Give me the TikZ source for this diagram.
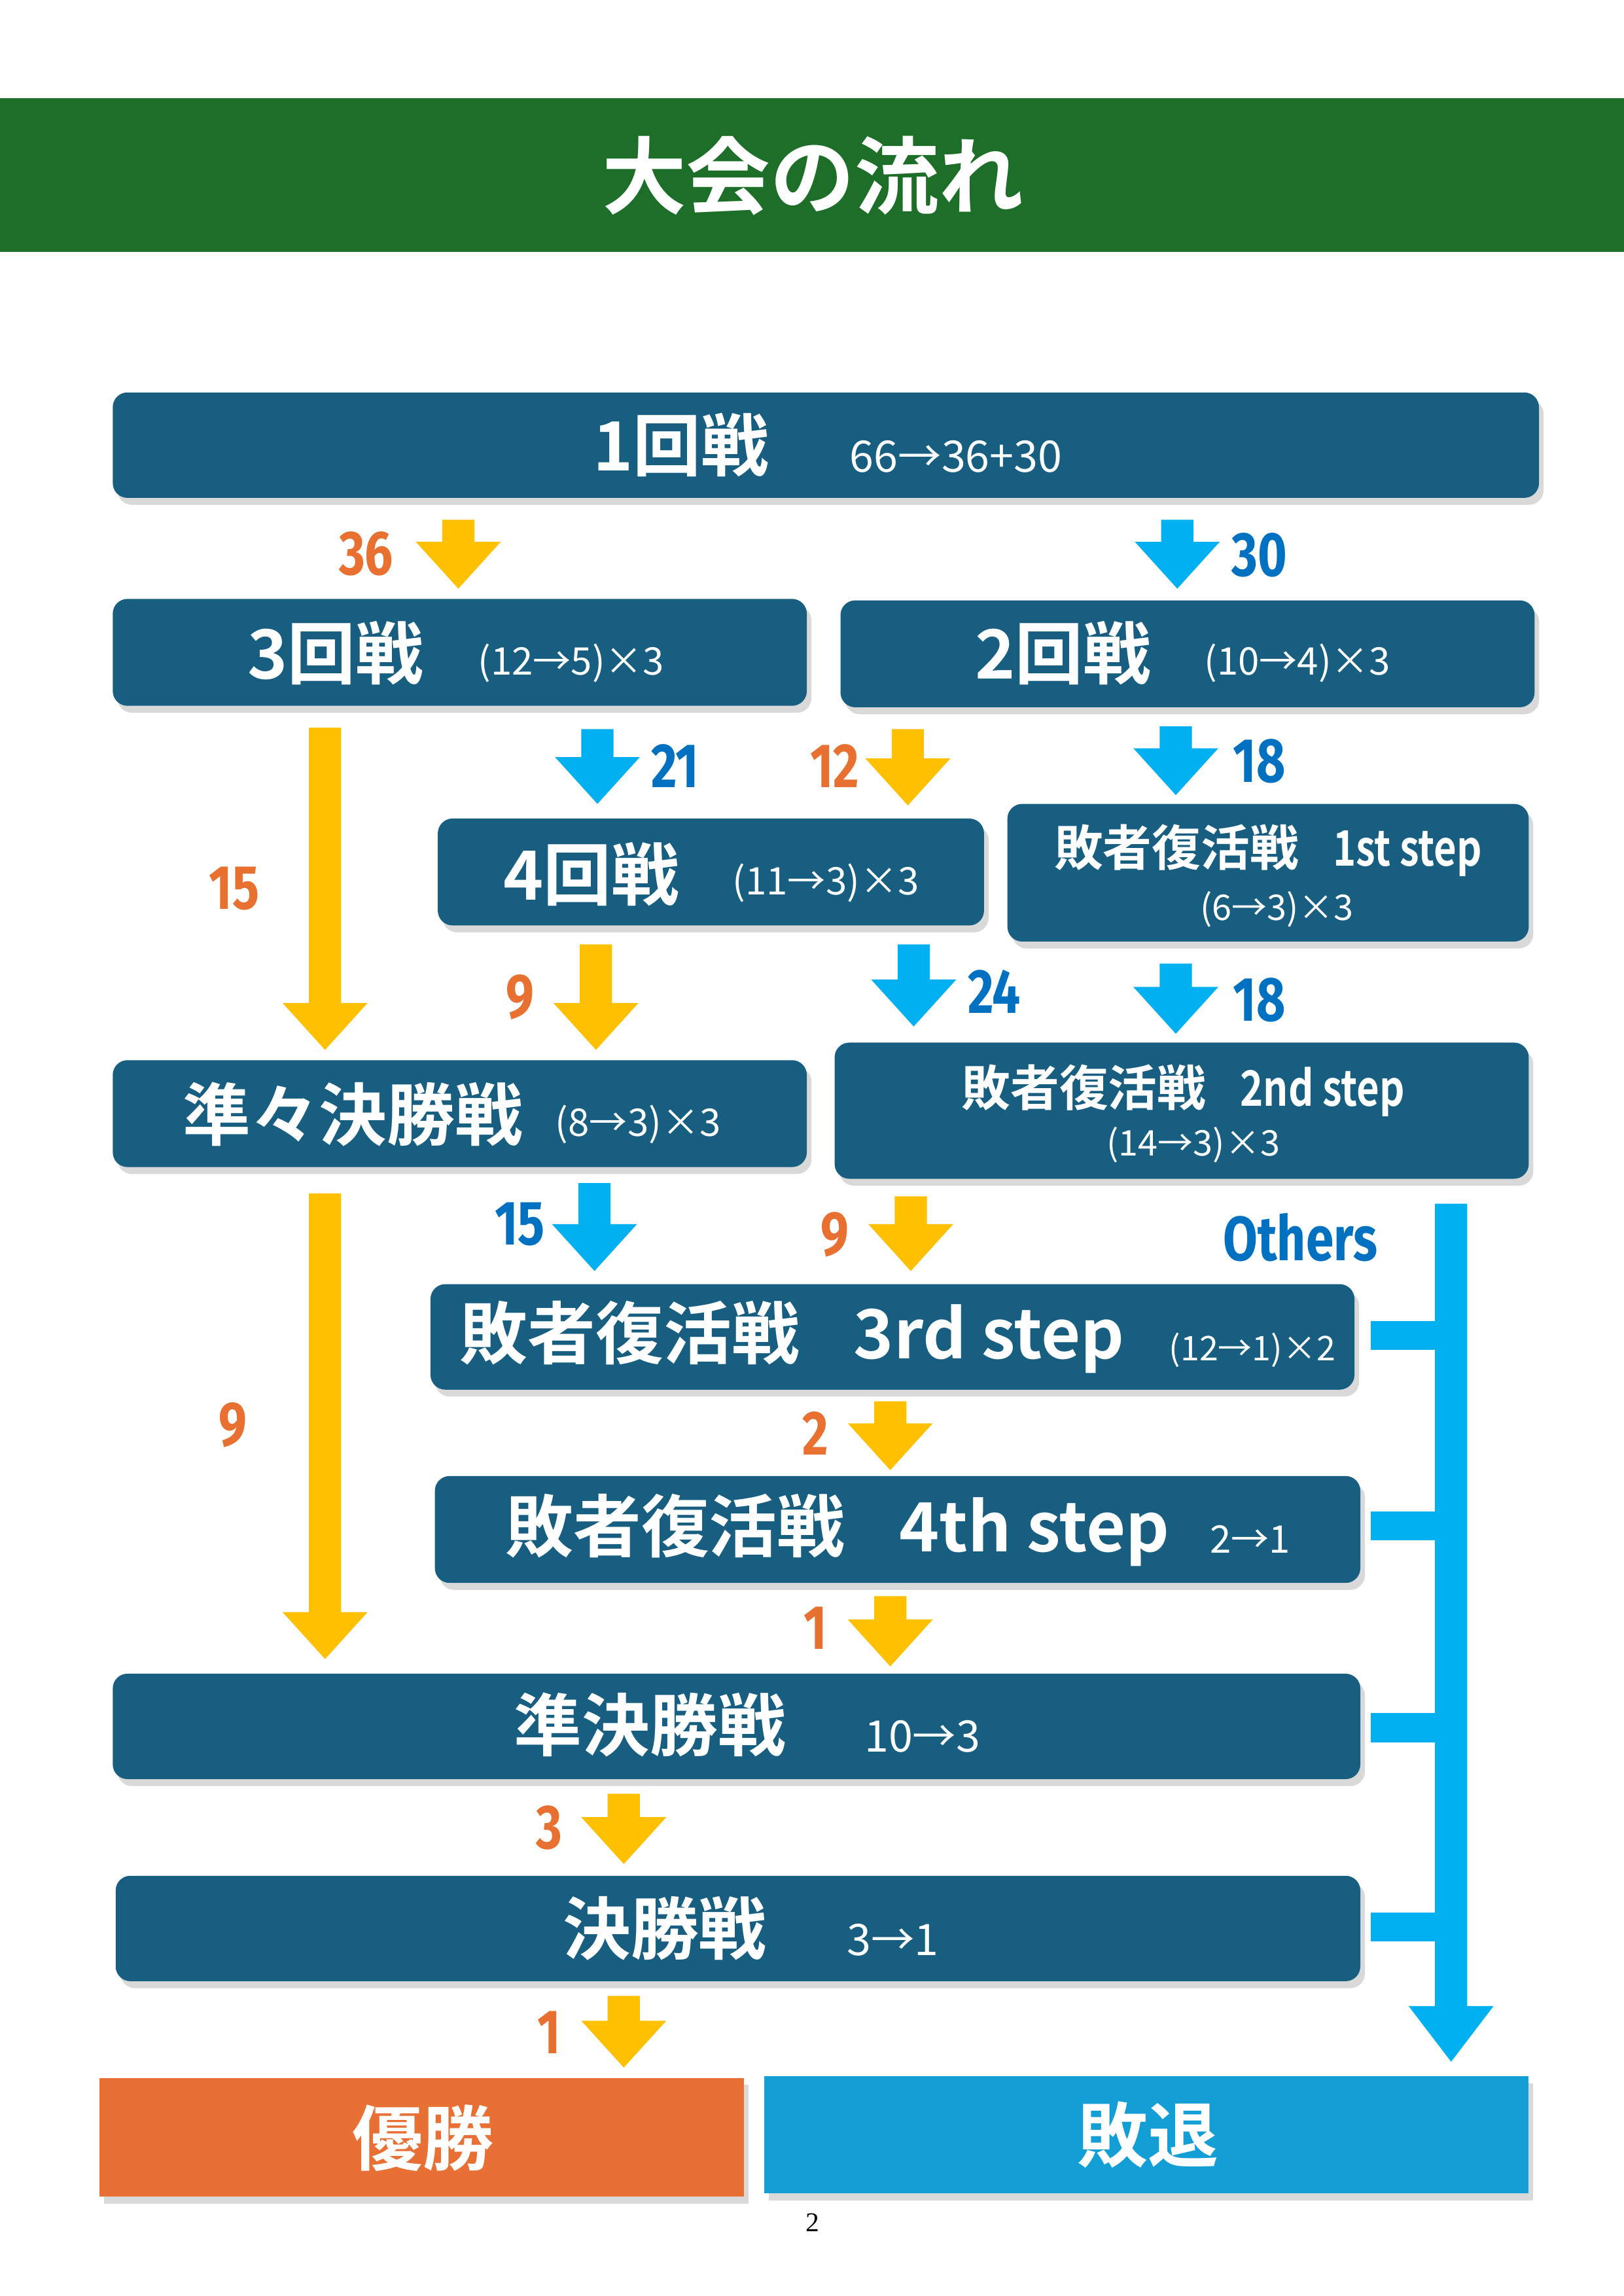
\documentclass[tikz,border=0pt]{standalone}
\usepackage{fontspec}
\setmainfont{Fira Sans}
\newfontfamily\jp{Noto Sans CJK JP}
\newfontfamily\jpb{Noto Sans CJK JP Bold}
\newfontfamily\pnum{Liberation Serif}
\usetikzlibrary{fit,shadows}

\definecolor{banner}{RGB}{28,110,40}
\definecolor{boxblue}{RGB}{24,94,128}
\definecolor{arrY}{RGB}{255,192,0}
\definecolor{arrB}{RGB}{0,176,240}
\definecolor{numO}{RGB}{232,112,48}
\definecolor{numB}{RGB}{0,112,192}
\definecolor{winO}{RGB}{232,112,53}
\definecolor{loseB}{RGB}{19,159,214}

\newcommand\cnd[1]{\scalebox{0.8}[1]{#1}}

\tikzset{
  box/.style={fill=boxblue,rounded corners=1.9mm,inner sep=0pt,
    drop shadow={opacity=0.3,shadow xshift=0.6mm,shadow yshift=-0.9mm}},
  endbox/.style={inner sep=0pt,
    drop shadow={opacity=0.3,shadow xshift=0.6mm,shadow yshift=-0.9mm}},
  big/.style={text=white,inner sep=0pt,font=\jpb\fontsize{25}{25}\selectfont},
  mid/.style={text=white,inner sep=0pt,font=\jpb\fontsize{18}{18}\selectfont},
  ratio/.style={text=white,inner sep=0pt,anchor=west,font=\jp\fontsize{14}{14}\selectfont},
  num/.style={inner sep=0pt,font=\bfseries\fontsize{23}{23}\selectfont},
}

\begin{document}
\begin{tikzpicture}[x=0.18936mm,y=-0.18936mm]
\useasboundingbox (0,0) rectangle (1109,1568);

% title band
\fill[banner] (0,67) rectangle (1109,172);
\node[text=white,font=\jpb\fontsize{31}{31}\selectfont] (ttl) at (555,120) {大会の流れ};

% boxes
\node[box,fit={(77,268) (1051,340)}] (r1) {};
\node[box,fit={(77,409) (551,482)}] (r3) {};
\node[box,fit={(574,410) (1048,483)}] (r2) {};
\node[box,fit={(299,559) (672,632)}] (r4) {};
\node[box,fit={(688,549) (1044,643)}] (rev1) {};
\node[box,fit={(77,724) (551,797)}] (qf) {};
\node[box,fit={(570,712) (1044,805)}] (rev2) {};
\node[box,fit={(294,877) (925,949)}] (rev3) {};
\node[box,fit={(297,1008) (929,1081)}] (rev4) {};
\node[box,fit={(77,1143) (929,1215)}] (sf) {};
\node[box,fit={(79,1281) (929,1353)}] (fin) {};
\node[endbox,fill=winO,fit={(68,1419) (508,1500)}] (win) {};
\node[endbox,fill=loseB,fit={(522,1418) (1044,1498)}] (lose) {};

% box texts
\node[big] (t1) at (465,304) {1回戦};
\node[ratio,font=\jp\fontsize{16}{16}\selectfont] (t1r) at (580,312) {66→36+30};
\node[big] (t3) at (229,446) {3回戦};
\node[ratio] (t3r) at (326,453) {(12→5)×3};
\node[big] (t2) at (726,446) {2回戦};
\node[ratio] (t2r) at (822,453) {(10→4)×3};
\node[big] (t4) at (404,597) {4回戦};
\node[ratio] (t4r) at (500,603) {(11→3)×3};
\node[mid] (tv1) at (866,581) {敗者復活戦\hspace{0.7em}\cnd{1st step}};
\node[ratio,anchor=center,font=\jp\fontsize{13}{13}\selectfont] (tv1r) at (872,621) {(6→3)×3};
\node[big] (tqf) at (241,761) {準々決勝戦};
\node[ratio] (tqfr) at (379,768) {(8→3)×3};
\node[mid] (tv2) at (808,745) {敗者復活戦\hspace{0.7em}\cnd{2nd step}};
\node[ratio,anchor=center,font=\jp\fontsize{13}{13}\selectfont] (tv2r) at (815,782) {(14→3)×3};
\node[big] (tv3) at (541,913) {敗者復活戦\hspace{0.8em}3rd step};
\node[ratio,font=\jp\fontsize{12.5}{12.5}\selectfont] (tv3r) at (798,922) {(12→1)×2};
\node[big] (tv4) at (572,1045) {敗者復活戦\hspace{0.8em}4th step};
\node[ratio] (tv4r) at (826,1051) {2→1};
\node[big] (tsf) at (444,1178) {準決勝戦};
\node[ratio,font=\jp\fontsize{16}{16}\selectfont] (tsfr) at (590,1186) {10→3};
\node[big] (tfin) at (454,1317) {決勝戦};
\node[ratio,font=\jp\fontsize{16}{16}\selectfont] (tfinr) at (578,1325) {3→1};
\node[big,font=\jpb\fontsize{26}{26}\selectfont] (twin) at (289,1460) {優勝};
\node[big,font=\jpb\fontsize{26}{26}\selectfont] (tlose) at (784,1458) {敗退};

% block arrows
\foreach \x/\ya/\yb/\c in {313/355/402/arrY, 804/355/402/arrB, 222/497/717/arrY,
    408/498/549/arrB, 620/498/550/arrY, 803/496/543/arrB, 407/645/717/arrY,
    624/645/701/arrB, 803/658/706/arrB, 222/815/1133/arrY, 406/808/868/arrB,
    622/817/868/arrY, 608/957/1004/arrY, 608/1090/1138/arrY, 426/1225/1273/arrY,
    426/1363/1412/arrY}
  \fill[\c] (\x-11,\ya) -- (\x+11,\ya) -- (\x+11,\yb-32) -- (\x+29,\yb-32)
    -- (\x,\yb) -- (\x-29,\yb-32) -- (\x-11,\yb-32) -- cycle;

% others bar
\fill[arrB] (980,822) -- (1002,822) -- (1002,1370) -- (1020,1370) -- (991,1408)
  -- (962,1370) -- (980,1370) -- cycle;
\foreach \y in {912,1042,1180,1316}
  \fill[arrB] (936,\y-10) rectangle (991,\y+10);

% counts
\foreach \x/\y/\t/\c [count=\i] in {250/378/36/numO, 860/379/30/numB, 160/607/15/numO,
    461/523/21/numB, 570/523/12/numO, 860/520/18/numB, 355/681/9/numO,
    679/677/24/numB, 860/683/18/numB, 159/973/9/numO, 355/836/15/numB,
    570/843/9/numO, 557/979/2/numO, 557/1112/1/numO, 375/1248/3/numO,
    375/1388/1/numO}
  \node[num,text=\c] (n\i) at (\x,\y) {\cnd{\t}};
\node[num,text=numB] (oth) at (888,845) {\cnd{Others}};

\node[font=\pnum\fontsize{10}{10}\selectfont] (pg) at (555,1518) {2};
\end{tikzpicture}
\end{document}
